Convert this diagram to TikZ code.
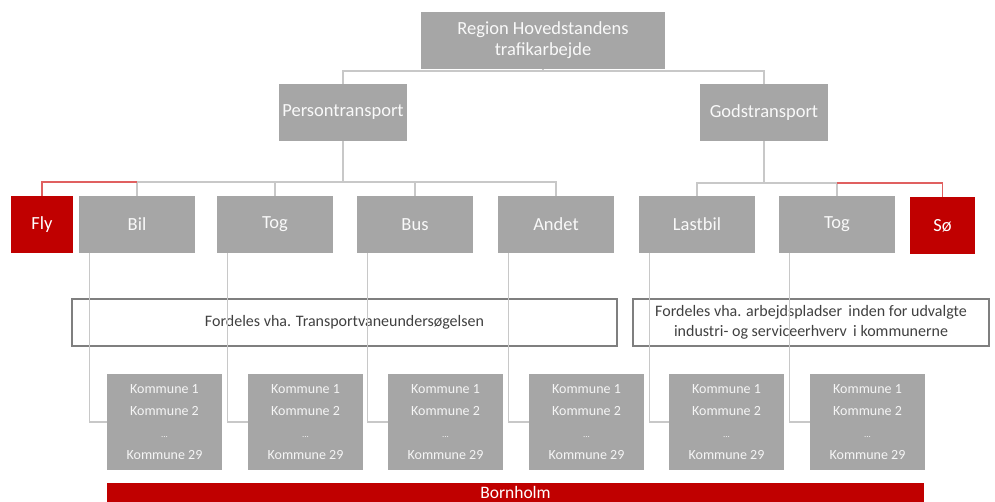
\documentclass[tikz,border=0pt]{standalone}
\usepackage{fontspec}
\setmainfont{Carlito}
\usetikzlibrary{positioning}
\definecolor{boxGray}{HTML}{A6A6A6}
\definecolor{lineGray}{HTML}{C8C8C8}
\definecolor{mainRed}{HTML}{C00000}
\definecolor{lineRed}{HTML}{E06060}
\definecolor{textGray}{HTML}{404040}
\definecolor{frameGray}{HTML}{7F7F7F}

\tikzset{
    graybox/.style={fill=boxGray, text=white!95!gray, minimum height=57pt, inner sep=2pt, font=\fontsize{18.5}{21}\selectfont, align=center},
    redbox/.style={graybox, fill=mainRed, text=white},
    kombox/.style={fill=boxGray, text=white!92!gray, minimum width=115pt, minimum height=96pt, font=\fontsize{14}{22}\selectfont, align=center},
    notebox/.style={draw=frameGray, line width=1.3pt, text=textGray, minimum height=47pt, font=\fontsize{16}{20}\selectfont, align=center},
    conn/.style={lineGray, line width=1.2pt},
    redconn/.style={lineRed, line width=1.2pt}
}

\begin{document}
\begin{tikzpicture}[x=1pt, y=-1pt]
    \useasboundingbox (0,0) rectangle (995,502);

    % top levels
    \node[graybox, minimum width=244pt] (top) at (543,40.5) {Region Hovedstandens\\trafikarbejde};
    \node[graybox, minimum width=128pt] (person) at (343,112.5) {Persontransport};
    \node[graybox, minimum width=128pt] (gods) at (764,112.5) {Godstransport};

    % transport modes
    \node[redbox, minimum width=62pt] (fly) at (42,224.5) {Fly};
    \node[graybox, minimum width=116pt] (bil) at (137,224.5) {Bil};
    \node[graybox, minimum width=116pt] (tog) at (275,224.5) {Tog};
    \node[graybox, minimum width=116pt] (bus) at (415,224.5) {Bus};
    \node[graybox, minimum width=116pt] (andet) at (556,224.5) {Andet};
    \node[graybox, minimum width=116pt] (lastbil) at (697,224.5) {Lastbil};
    \node[graybox, minimum width=116pt] (goodstog) at (837,224.5) {Tog};
    \node[redbox, minimum width=65pt] (soe) at (942.5,225.5) {Sø};

    % distribution keys
    \node[notebox, minimum width=545pt] (tvu) at (344.5,322.5) {Fordeles vha. Transportvaneundersøgelsen};
    \node[notebox, minimum width=356pt] (jobs) at (811,322.5) {Fordeles vha. arbejdspladser\, inden for udvalgte\\industri- og serviceerhverv\, i kommunerne};

    % municipalities
    \foreach \name/\x in {k1/164.5, k2/305.5, k3/445.5, k4/586.5, k5/726.5, k6/867.5}
        \node[kombox] (\name) at (\x,422) {Kommune 1\\Kommune 2\\{\fontsize{9}{22}\selectfont ...}\\Kommune 29};

    \node[fill=mainRed, text=white, minimum width=817pt, minimum height=19pt, inner sep=0pt, text depth=0pt, anchor=north, font=\fontsize{17.5}{19}\selectfont] (bornholm) at (515.5,483) {Bornholm};

    % connectors
    \coordinate (j0) at (543,71);
    \coordinate (jp) at (343,182);
    \coordinate (jg) at (764,183);
    \draw[conn] (top.south) -- (j0);
    \draw[conn] (person.north) |- (j0) -| (gods.north);
    \draw[conn] (person.south) -- (jp);
    \draw[conn] (bil.north) |- (jp) -| (andet.north);
    \draw[conn] (tog.north) -- (tog.north |- jp);
    \draw[conn] (bus.north) -- (bus.north |- jp);
    \draw[redconn] (fly.north) |- (bil.north |- jp);
    \draw[conn] (gods.south) -- (jg);
    \draw[conn] (lastbil.north) |- (jg) -| (goodstog.north);
    \draw[redconn] (goodstog.north |- jg) -| (soe.north);

    \foreach \src/\dst in {bil/k1, tog/k2, bus/k3, andet/k4, lastbil/k5, goodstog/k6}
        \draw[conn] ([xshift=11pt]\src.south west) |- (\dst.west);
\end{tikzpicture}
\end{document}
